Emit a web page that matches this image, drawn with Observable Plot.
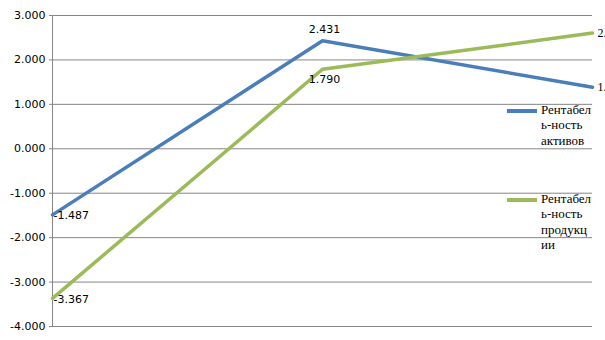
<!DOCTYPE html>
<html>
<head>
<meta charset="utf-8">
<script src="https://cdn.jsdelivr.net/npm/d3@7"></script>
<script src="https://cdn.jsdelivr.net/npm/@observablehq/plot@0.6"></script>
<style>
  body { margin: 0; background: white; }
  #wrap { position: relative; width: 605px; height: 340px; overflow: hidden; }
  .leg { position: absolute; left: 507px; font-family: "Liberation Serif", serif; font-size: 13px; line-height: 15.3px; color: #000; }
  .leg .sw { position: absolute; left: 0; width: 30px; height: 4px; }
  .leg .tx { position: absolute; left: 34px; white-space: nowrap; }
</style>
</head>
<body>
<div id="wrap"></div>
<script>
const periods = ["1", "2", "3"];
const seriesNames = ["Рентабель-ность активов", "Рентабель-ность продукции"];
const assetsReturn = [-1.487, 2.431, 1.385];
const productReturn = [-3.367, 1.790, 2.604];
const legendLines = [["Рентабел", "ь-ность", "активов"], ["Рентабел", "ь-ность", "продукц", "ии"]];
const colors = ["#4a7ebb", "#9bbb59"];
const yTicks = [-4, -3, -2, -1, 0, 1, 2, 3];

const data = [];
[assetsReturn, productReturn].forEach((vals, s) => {
  vals.forEach((v, i) => data.push({ series: seriesNames[s], period: periods[i], value: v, idx: i, s }));
});

const fmt = v => v.toFixed(3);
const fontSans = "DejaVu Sans, sans-serif";

const chart = Plot.plot({
  width: 605,
  height: 340,
  marginTop: 15,
  marginBottom: 14,
  marginLeft: 52,
  marginRight: 13,
  style: { fontFamily: fontSans, fontSize: "11px", background: "white", overflow: "visible" },
  x: { type: "point", domain: periods, padding: 0, axis: null },
  y: { domain: [-4, 3], ticks: yTicks, label: null },
  color: { domain: seriesNames, range: colors },
  marks: [
    Plot.gridY(yTicks, { stroke: "#868686", strokeOpacity: 1 }),
    Plot.ruleX([periods[0]], { stroke: "#868686", strokeOpacity: 1 }),
    Plot.axisY({ ticks: yTicks, tickSize: 3, tickPadding: 4, tickFormat: fmt, fontSize: 11, fill: "#000", stroke: "#868686", label: null }),
    Plot.line(data, { x: "period", y: "value", z: "series", stroke: "series", strokeWidth: 3.5 }),
    Plot.text(data.filter(d => d.idx === 0), { x: "period", y: "value", text: d => fmt(d.value), textAnchor: "start", dx: 1, dy: 1, fontSize: 11, fill: "#000" }),
    Plot.text(data.filter(d => d.idx === 1 && d.s === 0), { x: "period", y: "value", text: d => fmt(d.value), textAnchor: "middle", dx: 2, dy: -11, fontSize: 11, fill: "#000" }),
    Plot.text(data.filter(d => d.idx === 1 && d.s === 1), { x: "period", y: "value", text: d => fmt(d.value), textAnchor: "middle", dx: 2, dy: 10.5, fontSize: 11, fill: "#000" }),
    Plot.text(data.filter(d => d.idx === 2), { x: "period", y: "value", text: d => fmt(d.value), textAnchor: "start", dx: 5, dy: 0, fontSize: 12, fontFamily: "Liberation Serif, serif", fill: "#000" })
  ]
});

const wrap = document.getElementById("wrap");
wrap.appendChild(chart);

const legTops = [102, 191];
legendLines.forEach((lines, s) => {
  const item = document.createElement("div");
  item.className = "leg";
  item.style.top = legTops[s] + "px";
  const sw = document.createElement("div");
  sw.className = "sw";
  sw.style.background = colors[s];
  sw.style.top = "7px";
  item.appendChild(sw);
  const tx = document.createElement("div");
  tx.className = "tx";
  tx.innerHTML = lines.map(l => `<div>${l}</div>`).join("");
  tx.title = seriesNames[s];
  item.appendChild(tx);
  wrap.appendChild(item);
});
</script>
</body>
</html>
